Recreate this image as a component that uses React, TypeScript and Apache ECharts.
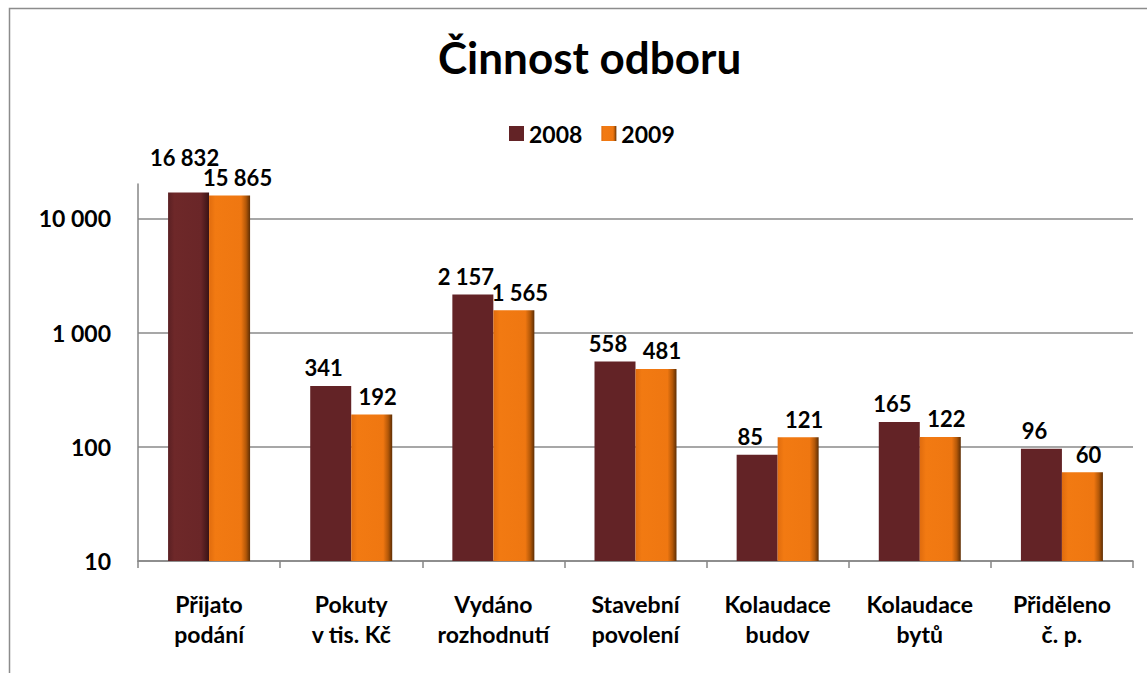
import React, { useEffect, useRef } from "react";
import * as echarts from "echarts";

const categories = [
  "Přijato\npodání",
  "Pokuty\nv tis. Kč",
  "Vydáno\nrozhodnutí",
  "Stavební\npovolení",
  "Kolaudace\nbudov",
  "Kolaudace\nbytů",
  "Přiděleno\nč. p.",
];
const values2008 = [16832, 341, 2157, 558, 85, 165, 96];
const values2009 = [15865, 192, 1565, 481, 121, 122, 60];
const seriesNames = ["2008", "2009"];
const yTickValues = [10, 100, 1000, 10000];

const FONT = "Lato, 'Open Sans', sans-serif";

const fmt = (v: number) =>
  String(Math.round(v)).replace(/\B(?=(\d{3})+(?!\d))/g, " ");

const maroonFlat = "#632326";
const maroonBevel = new echarts.graphic.LinearGradient(0, 0, 1, 0, [
  { offset: 0, color: "#5a2023" },
  { offset: 0.15, color: "#6e2829" },
  { offset: 0.8, color: "#6a2628" },
  { offset: 1, color: "#3a1315" },
]);
const orangeBevel = new echarts.graphic.LinearGradient(0, 0, 1, 0, [
  { offset: 0, color: "#e06c0e" },
  { offset: 0.15, color: "#f27a12" },
  { offset: 0.78, color: "#ef7711" },
  { offset: 0.9, color: "#b45808" },
  { offset: 1, color: "#5e2e04" },
]);

export default function App() {
  const ref = useRef<HTMLDivElement>(null);
  useEffect(() => {
    if (!ref.current) return;
    const chart = echarts.init(ref.current, null, { renderer: "svg" });
    const labelBase = {
      show: true,
      position: "top",
      distance: 7,
      fontFamily: FONT,
      fontWeight: "bold",
      fontSize: 22,
      color: "#000",
      formatter: (p: any) => fmt(p.value),
    };
    chart.setOption({
      animation: false,
      backgroundColor: "#fff",
      title: {
        text: "Činnost odboru",
        left: 433,
        top: 30,
        textStyle: {
          fontFamily: FONT,
          fontWeight: "bold",
          fontSize: 44,
          color: "#000",
        },
      },
      legend: {
        data: seriesNames,
        top: 117,
        left: 504,
        itemWidth: 15,
        itemHeight: 15,
        itemGap: 19,
        icon: "rect",
        textStyle: {
          fontFamily: FONT,
          fontWeight: "bold",
          fontSize: 23,
          color: "#000",
        },
      },
      graphic: [
        {
          type: "rect",
          shape: { x: 9.5, y: 8.5, width: 1300, height: 800 },
          style: { fill: "none", stroke: "#8c8c8c", lineWidth: 1.5 },
          silent: true,
        },
      ],
      grid: { left: 138, right: 14, top: 184, bottom: 112, containLabel: false },
      xAxis: {
        type: "category",
        data: categories,
        axisLine: { show: true, lineStyle: { color: "#868686", width: 1.5 } },
        axisTick: { show: true, length: 7, lineStyle: { color: "#868686", width: 1.5 } },
        axisLabel: {
          fontFamily: FONT,
          fontWeight: "bold",
          fontSize: 23,
          color: "#000",
          lineHeight: 30,
          margin: 28,
          interval: 0,
        },
      },
      yAxis: {
        type: "log",
        logBase: 10,
        min: 10,
        max: 20000,
        axisLine: { show: true, lineStyle: { color: "#868686", width: 1.5 } },
        axisTick: { show: false },
        splitLine: {
          show: true,
          showMaxLine: false,
          lineStyle: { color: "#8a8a8a", width: 1.5 },
        },
        axisLabel: {
          showMaxLabel: false,
          fontFamily: FONT,
          fontWeight: "bold",
          fontSize: 23,
          color: "#000",
          margin: 27,
          formatter: (v: number) =>
            yTickValues.some((t) => Math.abs(t - v) < 1e-6) ? fmt(v) : "",
        },
      },
      series: [
        {
          name: seriesNames[0],
          type: "bar",
          barWidth: 41,
          barGap: "0%",
          itemStyle: { color: maroonFlat },
          label: { ...labelBase, offset: [-7, 0] },
          data: values2008.map((v, i) =>
            i === 0
              ? {
                  value: v,
                  itemStyle: { color: maroonBevel },
                  label: { offset: [-4, -17] },
                }
              : v
          ),
        },
        {
          name: seriesNames[1],
          type: "bar",
          barWidth: 41,
          barGap: "0%",
          itemStyle: { color: orangeBevel },
          label: { ...labelBase, offset: [6, 0] },
          data: values2009.map((v, i) =>
            i === 0 ? { value: v, label: { offset: [8, 0] } } : v
          ),
        },
      ],
    });
    return () => chart.dispose();
  }, []);
  return (
    <div
      ref={ref}
      style={{ position: "fixed", left: 0, top: 0, width: 1147, height: 673 }}
    />
  );
}
